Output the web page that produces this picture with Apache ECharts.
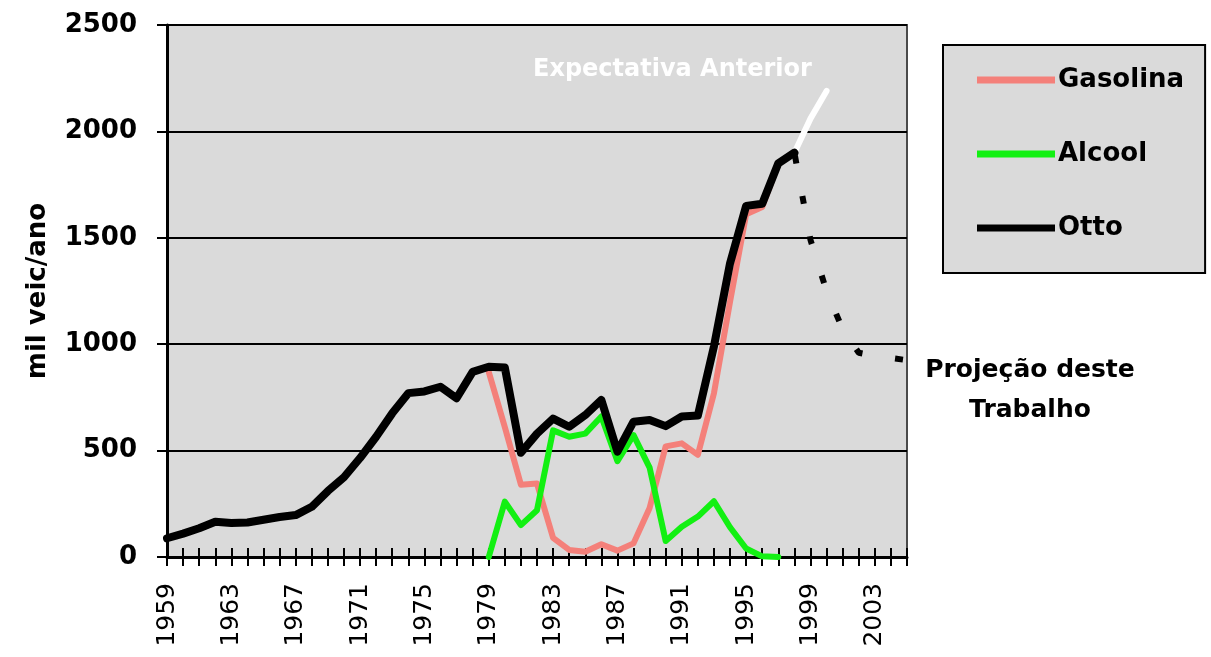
<!DOCTYPE html>
<html>
<head>
<meta charset="utf-8">
<script src="https://cdn.jsdelivr.net/npm/echarts@6/dist/echarts.min.js"></script>
<style>
  html, body { margin: 0; padding: 0; background: #ffffff; }
  #chart { width: 1211px; height: 657px; }
</style>
</head>
<body>
<div id="chart"></div>
<script>
// Vendas anuais de veículos Otto (mil veículos por ano)
const years = [];
for (let y = 1959; y <= 2005; y++) years.push(String(y));

// Total Otto, 1959-1998
const ottoValues = [88, 110, 135, 166, 160, 162, 175, 188, 197, 236,
  310, 375, 465, 565, 675, 770, 778, 800, 746, 870,
  894, 890, 490, 580, 650, 612, 667, 738, 495, 636,
  644, 615, 660, 665, 990, 1380, 1650, 1660, 1850, 1900];
// Gasolina, 1979-1997
const gasolinaValues = [870, 610, 340, 345, 90, 33, 25, 60, 30, 64,
  230, 520, 534, 480, 770, 1200, 1610, 1645, 1850];
// Alcool, 1979-1997
const alcoolValues = [0, 260, 150, 220, 595, 565, 580, 660, 450, 573,
  420, 75, 142, 190, 262, 140, 40, 3, 0];
// Expectativa anterior, 1998-2000
const anteriorValues = [1900, 2060, 2190];
// Projeção deste trabalho, 1998-2005
const projecaoValues = [1900, 1490, 1250, 1070, 960, 945, 935, 925];

const yTicks = [0, 500, 1000, 1500, 2000, 2500];

// Place a series that starts at a given year onto the full year axis
function alignFrom(startYear, values) {
  const out = years.map(() => null);
  const i0 = years.indexOf(String(startYear));
  values.forEach((v, i) => { out[i0 + i] = v; });
  return out;
}

const FONT = '"DejaVu Sans", sans-serif';
const GRID = { left: 167, right: 304, top: 25, bottom: 100 };
const PLOT_HEIGHT = 657 - GRID.top - GRID.bottom;
const chart = echarts.init(document.getElementById('chart'));

function lineSeries(name, data, color, width, extra) {
  return Object.assign({
    name: name,
    type: 'line',
    data: data,
    showSymbol: false,
    symbol: 'none',
    connectNulls: false,
    animation: false,
    itemStyle: { color: color },
    lineStyle: { color: color, width: width, join: 'round', cap: 'round' }
  }, extra || {});
}

chart.setOption({
  backgroundColor: '#ffffff',
  animation: false,
  grid: Object.assign({
    show: true,
    backgroundColor: '#DADADA',
    borderColor: '#4a4a4a',
    borderWidth: 2
  }, GRID),
  legend: {
    orient: 'vertical',
    left: 943, top: 45,
    data: ['Gasolina', 'Alcool', 'Otto'],
    icon: 'rect',
    itemWidth: 78, itemHeight: 7, itemGap: 44,
    backgroundColor: '#DADADA',
    borderColor: '#000', borderWidth: 2,
    padding: [20, 21, 30, 34],
    selectedMode: false,
    textStyle: { fontFamily: FONT, fontWeight: 'bold', fontSize: 26, color: '#000', lineHeight: 30, padding: [0, 0, 0, -2] }
  },
  xAxis: [{
    type: 'category',
    data: years,
    boundaryGap: false,
    axisLine: { show: true, lineStyle: { color: '#000', width: 3 } },
    axisTick: { show: true, interval: 0, length: 9, lineStyle: { color: '#000', width: 2 } },
    axisLabel: {
      interval: 3, rotate: 90, margin: 26,
      fontFamily: FONT, fontSize: 25, color: '#000'
    },
    splitLine: { show: false }
  }, {
    // companion axis moved down onto the zero line; its ticks point upward
    type: 'category',
    data: years,
    boundaryGap: false,
    position: 'top',
    offset: -PLOT_HEIGHT,
    axisLine: { show: false },
    axisTick: { show: true, interval: 0, length: 9, lineStyle: { color: '#000', width: 2 } },
    axisLabel: { show: false },
    splitLine: { show: false }
  }],
  yAxis: {
    type: 'value',
    min: yTicks[0], max: yTicks[yTicks.length - 1], interval: 500,
    name: 'mil veic/ano',
    nameLocation: 'middle',
    nameRotate: 90,
    nameGap: 116,
    nameTextStyle: { fontFamily: FONT, fontWeight: 'bold', fontSize: 26, color: '#000' },
    axisLine: { show: true, lineStyle: { color: '#000', width: 3 } },
    axisTick: { show: true, length: 10, lineStyle: { color: '#000', width: 2 } },
    axisLabel: {
      margin: 30, fontFamily: FONT, fontWeight: 'bold', fontSize: 26, color: '#000',
      formatter: v => String(v)
    },
    splitLine: { show: true, lineStyle: { color: '#000', width: 2 } }
  },
  series: [
    lineSeries('Gasolina', alignFrom(1979, gasolinaValues), '#F4807A', 6, { z: 3 }),
    lineSeries('Alcool', alignFrom(1979, alcoolValues), '#12F012', 6, { z: 4 }),
    lineSeries('Expectativa Anterior', alignFrom(1998, anteriorValues), '#FFFFFF', 6, { z: 5 }),
    lineSeries('Projeção deste Trabalho', alignFrom(1998, projecaoValues), '#000000', 6, {
      z: 5,
      lineStyle: { color: '#000', width: 6, type: [8, 33], dashOffset: 38, cap: 'butt' }
    }),
    lineSeries('Otto', alignFrom(1959, ottoValues), '#000000', 8, { z: 6 })
  ],
  graphic: [{
    type: 'text',
    x: 533, y: 58,
    z: 10,
    style: {
      text: 'Expectativa Anterior',
      fill: '#FFFFFF',
      font: 'bold 24px "DejaVu Sans", sans-serif'
    }
  }, {
    type: 'text',
    x: 1030, y: 350,
    z: 10,
    style: {
      text: 'Projeção deste\nTrabalho',
      fill: '#000',
      align: 'center',
      lineHeight: 40,
      font: 'bold 25px "DejaVu Sans", sans-serif'
    }
  }]
});
</script>
</body>
</html>
